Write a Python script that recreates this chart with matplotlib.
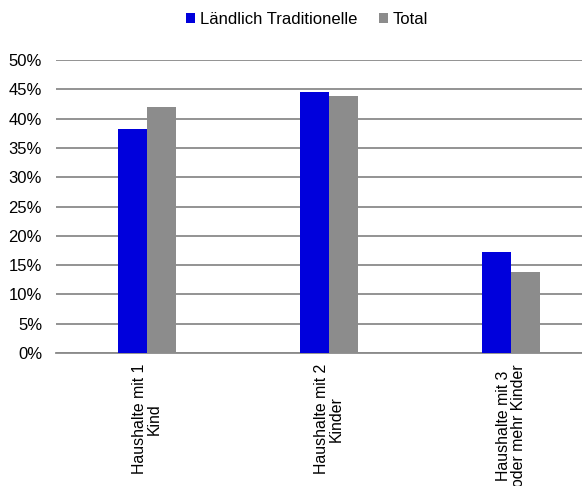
import matplotlib
matplotlib.use("Agg")
import matplotlib.pyplot as plt
from matplotlib.ticker import PercentFormatter
import numpy as np

plt.rcParams['font.family'] = ['Liberation Sans', 'DejaVu Sans']

categories = ["Haushalte mit 1\nKind", "Haushalte mit 2\nKinder", "Haushalte mit 3\noder mehr Kinder"]
series_names = ["Ländlich Traditionelle", "Total"]
laendlich = [38.2, 44.5, 17.2]
total = [42.0, 43.9, 13.9]
yticks = [0, 5, 10, 15, 20, 25, 30, 35, 40, 45, 50]

blue = "#0000DC"
grey = "#8C8C8C"
grid_col = "#8A8A8A"
fs = 12

fig = plt.figure(figsize=(5.82, 4.86), dpi=100)
ax = fig.add_axes([56 / 582, 1 - 353 / 486, 546 / 582, 293 / 486])

x = np.arange(len(categories))
w = 0.16
ax.bar(x - w / 2, laendlich, width=w, color=blue, label=series_names[0], zorder=3)
ax.bar(x + w / 2, total, width=w, color=grey, label=series_names[1], zorder=3)

ax.set_xlim(-0.5, len(categories) - 0.5)
ax.set_ylim(0, 50)
ax.set_yticks(yticks)
ax.yaxis.set_major_formatter(PercentFormatter(decimals=0))
ax.yaxis.grid(True, color=grid_col, linewidth=1.3, zorder=0)
ax.set_axisbelow(True)

for side in ["left", "right", "top"]:
    ax.spines[side].set_visible(False)
ax.spines["bottom"].set_color(grid_col)
ax.spines["bottom"].set_linewidth(1.3)

ax.tick_params(axis="y", length=0, pad=10, labelsize=fs, labelcolor="black")
ax.set_xticks(x)
ax.set_xticklabels(categories, rotation=90, ha="center", va="top",
                   multialignment="center", fontsize=11.4, linespacing=0.92)
ax.tick_params(axis="x", length=0, pad=8)

fig.legend(loc="center", bbox_to_anchor=(307 / 582, 1 - 19 / 486), ncol=2,
           frameon=False, fontsize=fs, handlelength=0.55, handleheight=0.55,
           handletextpad=0.3, columnspacing=1.3)

fig.savefig("out.png", dpi=100)
